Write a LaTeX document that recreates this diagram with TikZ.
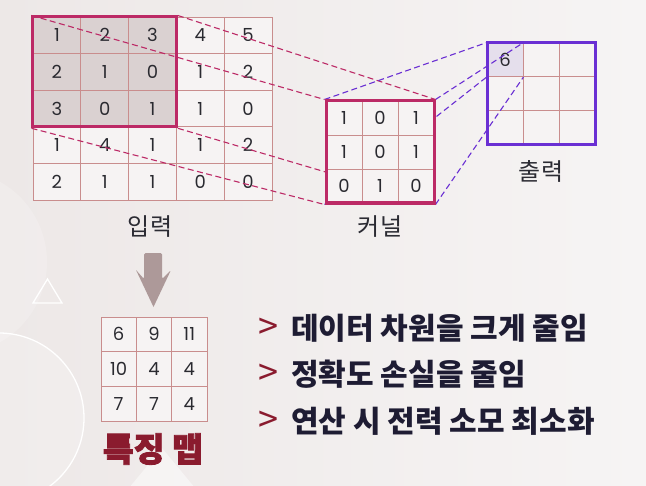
\documentclass[tikz,border=0pt]{standalone}
\usepackage{fontspec}
\setmainfont{Poppins}
\newfontfamily\kr{Noto Sans CJK KR}
\newfontfamily\krheavy[BoldFeatures={FakeBold=2.6}]{Noto Sans CJK KR}
\usetikzlibrary{positioning}
\definecolor{bgL}{HTML}{EDE8E7}
\definecolor{bgR}{HTML}{F6F4F4}
\definecolor{cellline}{HTML}{C98D8D}
\definecolor{cellbg}{HTML}{F6F3F3}
\definecolor{crim}{HTML}{BC2A66}
\definecolor{purp}{HTML}{6A2FD3}
\definecolor{hlfill}{HTML}{DAD1D1}
\definecolor{outfill}{HTML}{E5DFEC}
\definecolor{navy}{HTML}{1E1C33}
\definecolor{wine}{HTML}{8A1B2E}
\definecolor{arrowc}{HTML}{AD9999}
\definecolor{numc}{HTML}{2A2A30}
\definecolor{lblc}{HTML}{2B2B33}
\pgfdeclarelayer{back}
\pgfdeclarelayer{grids}
\pgfdeclarelayer{lines}
\pgfsetlayers{back,grids,lines,main}
\begin{document}
\begin{tikzpicture}[x=1bp,y=-1bp,
  cellstyle/.style={draw=cellline, line width=0.8bp, fill=cellbg, inner sep=0pt,
    font=\fontsize{18bp}{20bp}\selectfont, text=numc},
  incell/.style={cellstyle, minimum width=47.8bp, minimum height=36.6bp},
  kcell/.style={cellstyle, minimum width=36bp, minimum height=34bp},
  ocell/.style={cellstyle, minimum width=36bp, minimum height=33.7bp},
  fcell/.style={cellstyle, minimum width=35.3bp, minimum height=34.7bp},
  crimframe/.style={draw=crim, line width=3bp, inner sep=0pt},
  purpframe/.style={draw=purp, line width=3bp, inner sep=0pt},
  crimdash/.style={draw=crim, line width=1.1bp, dash pattern=on 6bp off 3.5bp},
  purpdash/.style={draw=purp, line width=1.1bp, dash pattern=on 6bp off 3.5bp},
  lbl/.style={inner sep=0pt, text=lblc, font=\kr\fontsize{24bp}{28bp}\selectfont},
  fmlbl/.style={inner sep=0pt, text=wine, font=\krheavy\bfseries\fontsize{33.5bp}{36bp}\selectfont},
  bul/.style={inner sep=0pt, text=wine, font=\kr\fontsize{36bp}{40bp}\selectfont},
  btxt/.style={inner sep=0pt, anchor=west, text=navy, font=\kr\bfseries\fontsize{30bp}{34bp}\selectfont}
]
\useasboundingbox (0,0) rectangle (646,486);

% ---------- background ----------
\begin{pgfonlayer}{back}
  \shade[left color=bgL, right color=bgR] (0,0) rectangle (646,486);
  \fill[white, opacity=0.18] (-45,262) circle[radius=92];
  \fill[white, opacity=0.2] (-1,418) circle[radius=85];
  \draw[white, line width=1.3bp] (-1,418) circle[radius=85];
  \draw[white, line width=1.3bp, line join=miter] (33,303) -- (62,303) -- (47.5,279) -- cycle;
  \fill[white, opacity=0.45] (162,448) -- (124,494) -- (200,494) -- cycle;
\end{pgfonlayer}

% ---------- input, output, feature map ----------
\begin{pgfonlayer}{grids}
  \foreach \r/\vals in {1/{1,2,3,4,5},2/{2,1,0,1,2},3/{3,0,1,1,0},4/{1,4,1,1,2},5/{2,1,1,0,0}}{
    \foreach \v [count=\c] in \vals {
      \pgfmathparse{and(\r<4,\c<4) ? 1 : 0}
      \ifnum\pgfmathresult=1 \def\cf{hlfill}\else\def\cf{cellbg}\fi
      \node[incell, fill=\cf] (in\r\c) at ({33+(\c-0.5)*47.8},{17+(\r-0.5)*36.6}) {\v};
    }
  }
  \node[crimframe, minimum width=143.4bp, minimum height=109.8bp] (hl) at (104.7,71.9) {};

  \foreach \r in {1,2,3}{
    \foreach \c in {1,2,3}{
      \ifnum\r\c=11 \def\cf{outfill}\def\tv{6}\else\def\cf{cellbg}\def\tv{}\fi
      \node[ocell, fill=\cf] (out\r\c) at ({487+(\c-0.5)*36},{43+(\r-0.5)*33.7}) {\tv};
    }
  }
  \node[purpframe, minimum width=108bp, minimum height=101.1bp] (outframe) at (541,93.55) {};

  \foreach \r/\vals in {1/{6,9,11},2/{10,4,4},3/{7,7,4}}{
    \foreach \v [count=\c] in \vals {
      \node[fcell] (fm\r\c) at ({101+(\c-0.5)*35.3},{317+(\r-0.5)*34.7}) {\v};
    }
  }

  \fill[arrowc, rounded corners=1.5bp] (144,253) -- (162,253) -- (162,279) -- (171,270)
     [sharp corners] -- (153.5,307) -- (136,270) [rounded corners=1.5bp] -- (144,279) -- cycle;

  \node[lbl] (lin) at (150,227) {입력};
  \node[lbl] (lkern) at (380,227) {커널};
  \node[lbl] (lout) at (541,171) {출력};
  \node[fmlbl] (lfm) at (153,449) {특징 맵};

  \node[bul] (b1) at (268,329) {>};
  \node[bul] (b2) at (268,375) {>};
  \node[bul] (b3) at (268,422) {>};
  \node[btxt] (t1) at (291,328) {데이터 차원을 크게 줄임};
  \node[btxt] (t2) at (291,374) {정확도 손실을 줄임};
  \node[btxt] (t3) at (291,421) {연산 시 전력 소모 최소화};
\end{pgfonlayer}

% ---------- kernel (on top of the connectors) ----------
\foreach \r/\vals in {1/{1,0,1},2/{1,0,1},3/{0,1,0}}{
  \foreach \v [count=\c] in \vals {
    \node[kcell] (k\r\c) at ({326+(\c-0.5)*36},{101+(\r-0.5)*34}) {\v};
  }
}
\node[crimframe, minimum width=108bp, minimum height=102bp] (kern) at (380,152) {};

% ---------- connectors ----------
\begin{pgfonlayer}{lines}
  \draw[crimdash] (hl.north west) -- (kern.north west);
  \draw[crimdash] (hl.north east) -- (kern.north east);
  \draw[crimdash] (hl.south west) -- (kern.south west);
  \draw[crimdash] (hl.south east) -- (kern.south east);
  \draw[purpdash] (kern.north west) -- (out11.north west);
  \draw[purpdash] (kern.north east) -- (out11.north east);
  \draw[purpdash] (kern.south west) -- (out11.south west);
  \draw[purpdash] (kern.south east) -- (out11.south east);
\end{pgfonlayer}
\end{tikzpicture}
\end{document}
